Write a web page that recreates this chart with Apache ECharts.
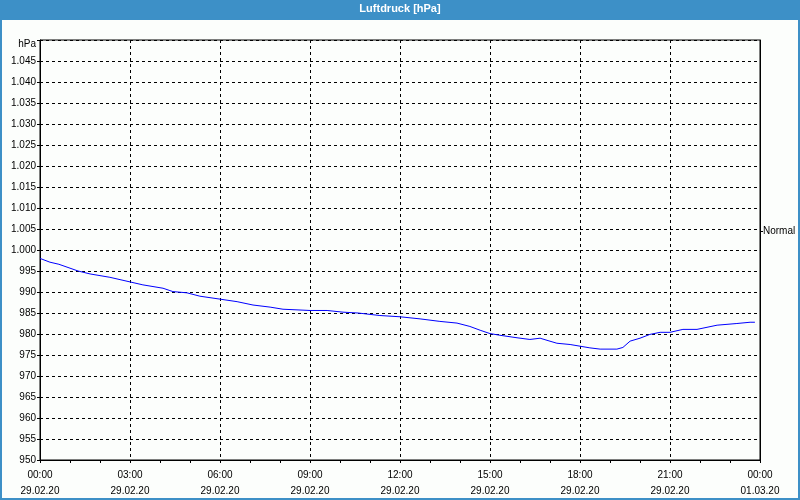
<!DOCTYPE html>
<html><head><meta charset="utf-8">
<script src="https://cdn.jsdelivr.net/npm/echarts@6/dist/echarts.min.js"></script>
<style>html,body{margin:0;padding:0;background:#fcfefc}#c{width:800px;height:500px}</style>
</head><body><div id="c"></div>
<script>
// hours after 29.02.20 00:00
var hours = [0.00,0.33,0.63,1.27,1.67,2.33,3.00,3.43,4.10,4.43,4.90,5.33,6.00,6.57,7.10,7.67,8.10,9.00,9.57,10.10,10.60,11.33,12.00,12.67,13.33,13.90,14.33,14.67,15.00,15.33,15.90,16.33,16.67,16.90,17.23,17.67,18.00,18.33,18.67,19.23,19.43,19.67,20.00,20.33,20.67,21.00,21.43,21.90,22.57,23.23,23.67,23.83];
var pressure = [998.0,997.1,996.6,995.0,994.3,993.5,992.4,991.7,990.9,990.1,989.8,989.0,988.3,987.7,986.9,986.4,985.9,985.6,985.6,985.2,985.0,984.4,984.1,983.6,983.0,982.6,981.8,980.9,980.1,979.7,979.1,978.7,979.0,978.5,977.8,977.5,977.1,976.7,976.4,976.4,976.8,978.3,979.0,979.9,980.4,980.4,981.1,981.1,982.1,982.5,982.8,982.8];
var timeLabels = ['00:00\n29.02.20','03:00\n29.02.20','06:00\n29.02.20','09:00\n29.02.20','12:00\n29.02.20','15:00\n29.02.20','18:00\n29.02.20','21:00\n29.02.20','00:00\n01.03.20'];
var normalValue = [1004.4];
var normalLabel = 'Normal';
var yMin = 950, yMax = 1050, yStep = 5;
var titleText = 'Luftdruck [hPa]';

var pts = hours.map(function(h,i){return [h, pressure[i]];});
var FONT = 'Liberation Sans';
var BLUE = '#3d90c7';
function fmtY(v){
  if (v === yMax) return '{u|hPa}';
  if (v >= 1000) { var r = String(v % 1000); while (r.length < 3) r = '0' + r; return Math.floor(v/1000) + '.' + r; }
  return String(v);
}
var chart = echarts.init(document.getElementById('c'), null, {renderer:'canvas'});
chart.setOption({
  backgroundColor: '#fcfefc',
  animation: false,
  graphic: [
    {type:'rect', z:-1, shape:{x:0,y:0,width:800,height:20}, style:{fill:BLUE}},
    {type:'rect', z:10, shape:{x:0,y:0,width:800,height:500}, style:{fill:null, stroke:BLUE, lineWidth:4}}
  ],
  title: {text: titleText, left:'center', top:3, padding:0,
    textStyle:{color:'#ffffff', fontFamily:FONT, fontSize:11, fontWeight:'bold'}},
  grid: {left:40, right:40, top:40, bottom:40, show:true, borderColor:'#000', borderWidth:1, backgroundColor:'transparent'},
  xAxis: {
    type:'value', min:0, max:24, interval:3,
    axisLine:{show:true, onZero:false, lineStyle:{color:'#000', width:1}},
    axisTick:{show:true, length:3, lineStyle:{color:'#000'}},
    minorTick:{show:true, splitNumber:3, length:3, lineStyle:{color:'#000'}},
    splitLine:{show:true, lineStyle:{color:'#000', type:[3,3], width:1}},
    axisLabel:{color:'#000', fontFamily:FONT, fontSize:10, lineHeight:16, margin:7,
      formatter:function(v){return timeLabels[Math.round(v/3)];}}
  },
  yAxis: [{
    type:'value', min:yMin, max:yMax, interval:yStep,
    axisLine:{show:true, lineStyle:{color:'#000', width:1}},
    axisTick:{show:true, length:3, lineStyle:{color:'#000'}},
    splitLine:{show:true, lineStyle:{color:'#000', type:[3,3], width:1}},
    axisLabel:{color:'#000', fontFamily:FONT, fontSize:10, margin:4, formatter:fmtY,
      rich:{u:{fontFamily:FONT, fontSize:10, color:'#000', padding:[8,0,0,0]}}}
  },{
    type:'value', min:yMin, max:yMax, position:'right',
    axisLine:{show:true, lineStyle:{color:'#000', width:1}},
    axisTick:{show:true, length:3, customValues:normalValue, lineStyle:{color:'#000'}},
    splitLine:{show:false},
    axisLabel:{show:true, color:'#000', fontFamily:FONT, fontSize:10, margin:3, customValues:normalValue,
      formatter:function(){return normalLabel;}}
  }],
  series: [{
    type:'line', data:pts, showSymbol:false, symbol:'none', smooth:false,
    lineStyle:{color:'#0000ff', width:1}, itemStyle:{color:'#0000ff'}
  }]
});
</script></body></html>
